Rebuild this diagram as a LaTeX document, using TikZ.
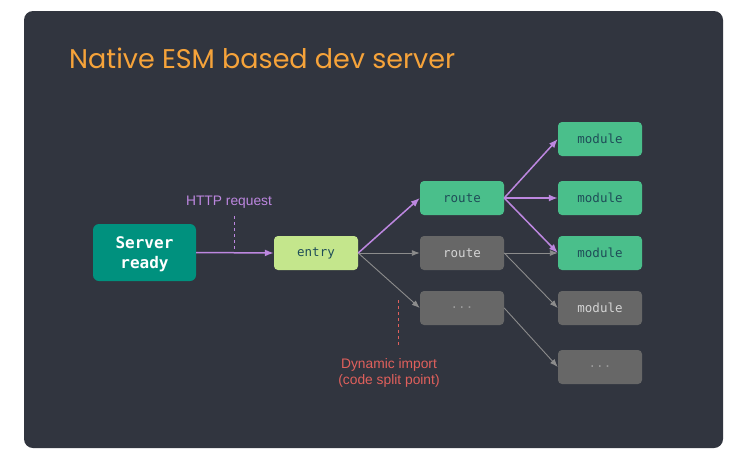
\documentclass[tikz,border=0pt]{standalone}
\usepackage{fontspec}
\setmainfont{Liberation Sans}
\newfontfamily\titlefont{Poppins}
\newfontfamily\codefont{DejaVu Sans Mono}
\usetikzlibrary{arrows.meta}
\definecolor{panel}{HTML}{31353F}
\definecolor{titleorange}{HTML}{F6A33A}
\definecolor{serverteal}{HTML}{00917E}
\definecolor{entrygreen}{HTML}{C4E68C}
\definecolor{modgreen}{HTML}{4ABF8B}
\definecolor{modgray}{HTML}{676767}
\definecolor{reqpurple}{HTML}{BD87E0}
\definecolor{splitred}{HTML}{E0605C}
\definecolor{linkgray}{HTML}{8C8C8C}
\definecolor{darktext}{HTML}{1F4D58}
\definecolor{lighttext}{HTML}{D4D4D4}
\definecolor{dimtext}{HTML}{9A9A9A}
\tikzset{
  box/.style={rounded corners=4pt, minimum width=84pt, minimum height=34pt,
    inner sep=0pt, font=\codefont\fontsize{12.5}{14}\selectfont},
  greenbox/.style={box, fill=modgreen, text=darktext},
  graybox/.style={box, fill=modgray, text=lighttext},
  dimbox/.style={box, fill=modgray, text=dimtext},
  livelink/.style={draw=reqpurple, line width=1.5pt, -{Latex[length=9pt,width=7pt]}},
  deadlink/.style={draw=linkgray, line width=0.9pt, -{Latex[length=8pt,width=6pt]}},
  note/.style={font=\fontsize{13.8}{16.5}\selectfont, align=center},
}
\begin{document}
\begin{tikzpicture}[x=1pt,y=-1pt]
  \useasboundingbox (0,0) rectangle (735,461);
  \fill[white] (0,0) rectangle (735,461);
  \fill[panel, rounded corners=9pt] (24,11) rectangle (723,448);

  \node[anchor=base west, text=titleorange, inner sep=0pt,
        font=\titlefont\fontsize{27}{30}\selectfont] (title) at (69,68) {Native ESM based dev server};

  % request origin and entry point
  \node[rounded corners=6pt, fill=serverteal, minimum width=103pt,
        minimum height=57pt, inner sep=0pt] (server) at (144.5,252.5) {};
  \node[text=white, inner sep=0pt, align=center,
        font=\codefont\bfseries\fontsize{16}{20}\selectfont] (serverlabel) at (144.5,254.5) {Server\\ready};
  \node[box, fill=entrygreen, text=darktext] (entry) at (316,253) {entry};

  % routes
  \node[greenbox] (routeA) at (462,198) {route};
  \node[graybox]  (routeB) at (462,253) {route};
  \node[dimbox]   (routeC) at (462,308) {...};

  % modules
  \node[greenbox] (mod1) at (600,139) {module};
  \node[greenbox] (mod2) at (600,198) {module};
  \node[greenbox] (mod3) at (600,253) {module};
  \node[graybox]  (mod4) at (600,308) {module};
  \node[dimbox]   (mod5) at (600,367) {...};

  % inactive links
  \draw[deadlink] (entry.east) -- (routeB.west);
  \draw[deadlink] (entry.east) -- (routeC.west);
  \draw[deadlink] (routeB.east) -- (mod3.west);
  \draw[deadlink] (routeB.east) -- (mod4.west);
  \draw[deadlink] (routeC.east) -- (mod5.west);

  % requested links
  \draw[livelink] (server.east) -- (entry.west);
  \draw[livelink] (entry.east) -- (routeA.west);
  \draw[livelink] (routeA.east) -- (mod1.west);
  \draw[livelink] (routeA.east) -- (mod2.west);
  \draw[livelink] (routeA.east) -- (mod3.west);

  % annotations
  \node[note, text=reqpurple] (http) at (229,202) {HTTP request};
  \coordinate (httpfoot) at (234,251);
  \draw[reqpurple, line width=0.8pt, dash pattern=on 3pt off 3pt] (234,216) -- (httpfoot);

  \node[note, text=splitred, inner sep=0pt] (split) at (389,373) {Dynamic import\\(code split point)};
  \draw[splitred, line width=0.8pt, dash pattern=on 3pt off 3pt] (398,300) -- (398,345);
\end{tikzpicture}
\end{document}
